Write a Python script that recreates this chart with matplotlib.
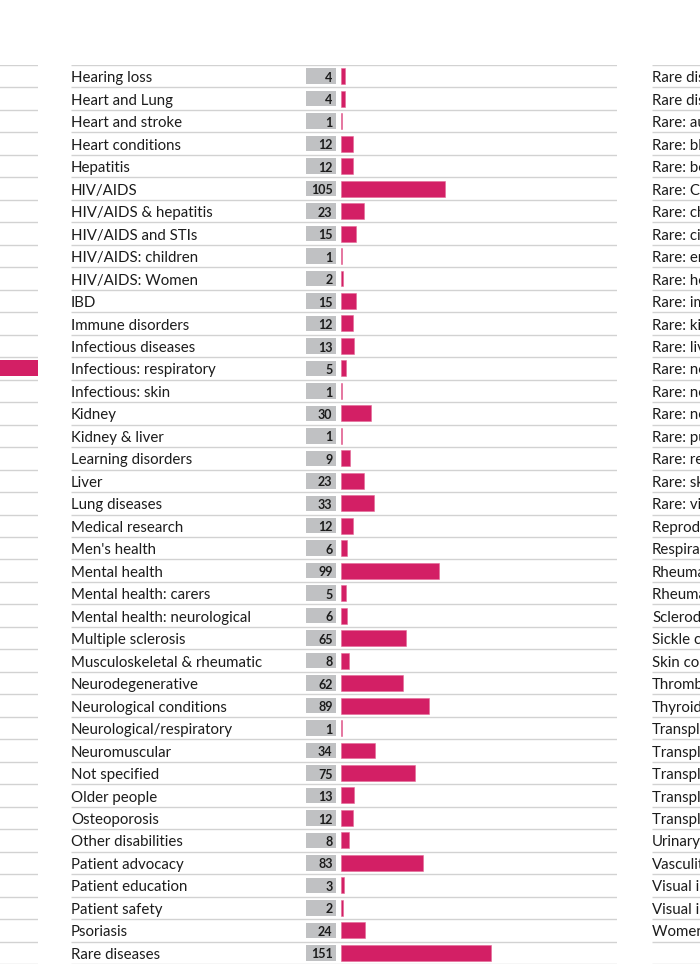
import matplotlib
matplotlib.use('Agg')
import matplotlib.pyplot as plt

# ── Data ──────────────────────────────────────────────────────────────────────
mid_labels = [
    'Hearing loss', 'Heart and Lung', 'Heart and stroke', 'Heart conditions',
    'Hepatitis', 'HIV/AIDS', 'HIV/AIDS & hepatitis', 'HIV/AIDS and STIs',
    'HIV/AIDS: children', 'HIV/AIDS: Women', 'IBD', 'Immune disorders',
    'Infectious diseases', 'Infectious: respiratory', 'Infectious: skin',
    'Kidney', 'Kidney & liver', 'Learning disorders', 'Liver', 'Lung diseases',
    'Medical research', "Men's health", 'Mental health', 'Mental health: carers',
    'Mental health: neurological', 'Multiple sclerosis',
    'Musculoskeletal & rheumatic', 'Neurodegenerative', 'Neurological conditions',
    'Neurological/respiratory', 'Neuromuscular', 'Not specified', 'Older people',
    'Osteoporosis', 'Other disabilities', 'Patient advocacy', 'Patient education',
    'Patient safety', 'Psoriasis', 'Rare diseases',
]
mid_values = [4, 4, 1, 12, 12, 105, 23, 15, 1, 2, 15, 12, 13, 5, 1, 30, 1, 9,
              23, 33, 12, 6, 99, 5, 6, 65, 8, 62, 89, 1, 34, 75, 13, 12, 8, 83,
              3, 2, 24, 151]

# right-hand column (only the start of each label is in frame)
right_labels = [
    'Rare diseases: children', 'Rare diseases: genetic', 'Rare: autoimmune',
    'Rare: blood', 'Rare: bone', 'Rare: Cancer', 'Rare: childhood',
    'Rare: circulatory', 'Rare: endocrine', 'Rare: heart', 'Rare: immune',
    'Rare: kidney', 'Rare: liver', 'Rare: neurodegenerative',
    'Rare: neurological', 'Rare: neuromuscular', 'Rare: pulmonary',
    'Rare: respiratory', 'Rare: skin', 'Rare: vision', 'Reproductive health',
    'Respiratory', 'Rheumatic', 'Rheumatoid arthritis', 'Scleroderma',
    'Sickle cell', 'Skin conditions', 'Thrombosis', 'Thyroid', 'Transplant',
    'Transplant: heart', 'Transplant: kidney', 'Transplant: liver',
    'Transplant: lung', 'Urinary', 'Vasculitis', 'Visual impairment',
    'Visual impairment: children', "Women's health", '',
]

# left-hand column: only one bar reaches into frame
left_rows = 40
left_bar_rows = [13]
left_bar_values = [300]

# ── Style ─────────────────────────────────────────────────────────────────────
plt.rcParams['font.family'] = ['Lato', 'DejaVu Sans']
BAR_COLOR = '#d31f65'
BOX_COLOR = '#c0c1c3'
LINE_COLOR = '#d2d2d2'
TEXT_COLOR = '#1c1c1c'

W, H = 700, 980
TOP, BOTTOM = 65, 964
COL_W = 546
PX_PER_UNIT = 0.993
BAR_OFFSET = 270          # px from column left to bar start
BOX_L, BOX_R = -35.2, -5.0
BAR_H = 0.71
BOX_H = 0.69
LABEL_FS = 10.8
VALUE_FS = 9.0

fig = plt.figure(figsize=(W / 100, H / 100), dpi=100)
fig.patch.set_facecolor('white')


def make_col(x_left, nrows):
    ax = fig.add_axes([x_left / W, 1 - BOTTOM / H, COL_W / W, (BOTTOM - TOP) / H])
    ax.set_xlim(-BAR_OFFSET / PX_PER_UNIT, (COL_W - BAR_OFFSET) / PX_PER_UNIT)
    ax.set_ylim(nrows, 0)
    ax.axis('off')
    ax.hlines(range(nrows + 1), 0, 1, transform=ax.get_yaxis_transform(),
              color=LINE_COLOR, lw=1.0)
    return ax


# middle column
ax = make_col(71, len(mid_labels))
ys = [i + 0.5 for i in range(len(mid_labels))]
ax.barh(ys, [BOX_R - BOX_L] * len(ys), left=BOX_L, height=BOX_H,
        color=BOX_COLOR, lw=0)
ax.barh(ys, mid_values, left=0, height=BAR_H, color=BAR_COLOR,
        edgecolor='#e46a97', lw=0.4)
for y, lab, v in zip(ys, mid_labels, mid_values):
    ax.text(0, y + 0.27, lab, transform=ax.get_yaxis_transform(),
            ha='left', va='baseline', fontsize=LABEL_FS, color=TEXT_COLOR)
    ax.text(BOX_R - 3.5, y + 0.25, str(v), ha='right', va='baseline',
            fontsize=VALUE_FS, fontweight='bold', color=TEXT_COLOR)

# left column (mostly out of frame)
axl = make_col(38 - COL_W, left_rows)
axl.barh([r + 0.5 for r in left_bar_rows], left_bar_values, left=0,
         height=BAR_H, color=BAR_COLOR, lw=0)

# right column (mostly out of frame)
axr = make_col(652, len(right_labels))
for i, lab in enumerate(right_labels):
    axr.text(0, i + 0.5 + 0.27, lab, transform=axr.get_yaxis_transform(),
             ha='left', va='baseline', fontsize=LABEL_FS, color=TEXT_COLOR)

fig.savefig('out.png', dpi=100)
